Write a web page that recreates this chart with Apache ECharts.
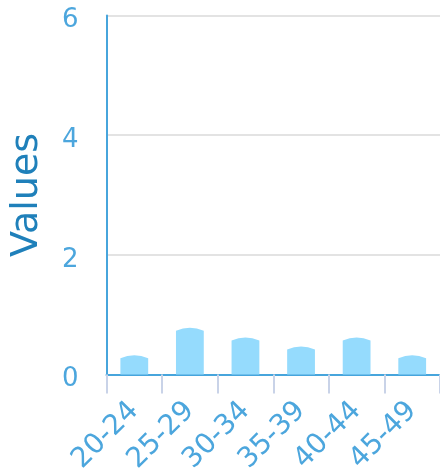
<!DOCTYPE html>
<html>
<head>
<meta charset="utf-8">
<script src="https://cdn.jsdelivr.net/npm/echarts@6/dist/echarts.min.js"></script>
<style>
  html, body { margin: 0; padding: 0; background: #ffffff; }
  #chart { width: 440px; height: 469px; }
</style>
</head>
<body>
<div id="chart"></div>
<script>
// Age groups along the x axis
const categories = ['20-24', '25-29', '30-34', '35-39', '40-44', '45-49'];
// Value per age group
const values = [0.32, 0.78, 0.62, 0.47, 0.62, 0.32];
// Y axis range and step
const yMin = 0;
const yMax = 6;
const yStep = 2;

const labelBlue = '#4ca6dd';
const axisBlue = '#47a5dc';

const chart = echarts.init(document.getElementById('chart'), null, { renderer: 'canvas' });

// Bars with a gently arched top, sized from the category band
function renderBar(params, api) {
  const idx = api.value(0);
  const v = api.value(1);
  const top = api.coord([idx, v]);
  const base = api.coord([idx, 0]);
  const w = api.size([1, 0])[0] * 0.5;
  const l = top[0] - w / 2;
  const r = top[0] + w / 2;
  const sag = Math.min(3, (base[1] - top[1]) / 2);
  return {
    type: 'path',
    shape: {
      pathData: 'M' + l + ' ' + base[1] +
        ' L' + l + ' ' + (top[1] + sag) +
        ' Q' + top[0] + ' ' + (top[1] - sag) + ' ' + r + ' ' + (top[1] + sag) +
        ' L' + r + ' ' + base[1] + ' Z'
    },
    style: { fill: '#95dbfd' }
  };
}

chart.setOption({
  animation: false,
  textStyle: { fontFamily: 'DejaVu Sans' },
  grid: {
    left: 106.5, right: 0, top: 15.5, bottom: 94.5,
    containLabel: false,
    outerBoundsMode: 'none'
  },
  xAxis: {
    type: 'category',
    data: categories,
    boundaryGap: true,
    axisLine: { show: true, lineStyle: { color: axisBlue, width: 2 } },
    axisTick: { show: true, length: 19, lineStyle: { color: '#c9d3e8', width: 2 } },
    axisLabel: {
      rotate: 45,
      margin: 32,
      color: labelBlue,
      fontSize: 28,
      fontFamily: 'DejaVu Sans'
    },
    splitLine: { show: false }
  },
  yAxis: {
    type: 'value',
    min: yMin,
    max: yMax,
    interval: yStep,
    name: 'Values',
    nameLocation: 'middle',
    nameRotate: 90,
    nameGap: 60,
    nameTextStyle: { color: '#1f80ba', fontSize: 38, fontFamily: 'DejaVu Sans' },
    axisLine: { show: true, lineStyle: { color: axisBlue, width: 2 } },
    axisTick: { show: false },
    axisLabel: {
      color: labelBlue,
      fontSize: 26,
      margin: 28,
      formatter: '{v|{value}}',
      rich: { v: { color: labelBlue, fontSize: 26, padding: [10, 0, 0, 0] } },
      fontFamily: 'DejaVu Sans'
    },
    splitLine: { show: true, lineStyle: { color: '#e3e3e3', width: 2 } }
  },
  series: [{
    type: 'custom',
    renderItem: renderBar,
    data: values.map((v, i) => [i, v]),
    encode: { x: 0, y: 1 }
  }]
});
</script>
</body>
</html>
